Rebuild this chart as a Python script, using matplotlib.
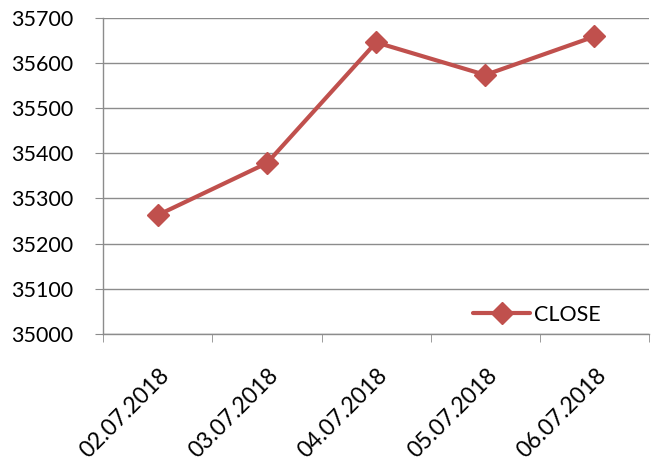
import matplotlib
matplotlib.use("Agg")
import matplotlib.pyplot as plt
import matplotlib.transforms as mtransforms
import numpy as np

dates = ["02.07.2018", "03.07.2018", "04.07.2018", "05.07.2018", "06.07.2018"]
close = [35263, 35378, 35645, 35573, 35658]
yticks = [35000, 35100, 35200, 35300, 35400, 35500, 35600, 35700]

plt.rcParams['font.family'] = ['Lato', 'DejaVu Sans']

fig = plt.figure(figsize=(6.53, 4.68), dpi=100)
ax = fig.add_axes([0.158, 0.2863, 0.836, 0.6763])

x = np.arange(len(dates))
ax.plot(x, close, color="#C0504D", lw=3, marker="D", ms=11, label="CLOSE",
        solid_capstyle="round", zorder=3)

ax.set_xlim(-0.5, len(dates) - 0.5)
ax.set_ylim(yticks[0], yticks[-1])
ax.set_yticks(yticks)
ax.set_yticklabels([str(v) for v in yticks], fontsize=15.5)
ax.yaxis.grid(True, color="#8C8C8C", lw=1)
ax.set_axisbelow(True)

ax.set_xticks(x)
ax.set_xticklabels(dates, fontsize=16.5, rotation=45, ha="right", rotation_mode="anchor")
ax.set_xticks(np.arange(-0.5, len(dates), 1.0), minor=True)
ax.tick_params(axis="x", which="major", length=0, pad=22)
ax.tick_params(axis="x", which="minor", length=6, color="#8C8C8C", direction="out")
ax.tick_params(axis="y", length=6, color="#8C8C8C", direction="out", pad=15.5)

for s in ["top", "right"]:
    ax.spines[s].set_visible(False)
for s in ["left", "bottom"]:
    ax.spines[s].set_color("#8C8C8C")
    ax.spines[s].set_linewidth(1)

leg = ax.legend(loc="center left", bbox_to_anchor=(0.678, 0.06), frameon=False,
                fontsize=15.5, handlelength=2.65, handletextpad=0.15,
                borderpad=0, borderaxespad=0)

offset = mtransforms.ScaledTranslation(1/100, 0, fig.dpi_scale_trans)
for lbl in ax.get_xticklabels():
    lbl.set_transform(lbl.get_transform() + offset)

fig.savefig("out.png", dpi=100)
